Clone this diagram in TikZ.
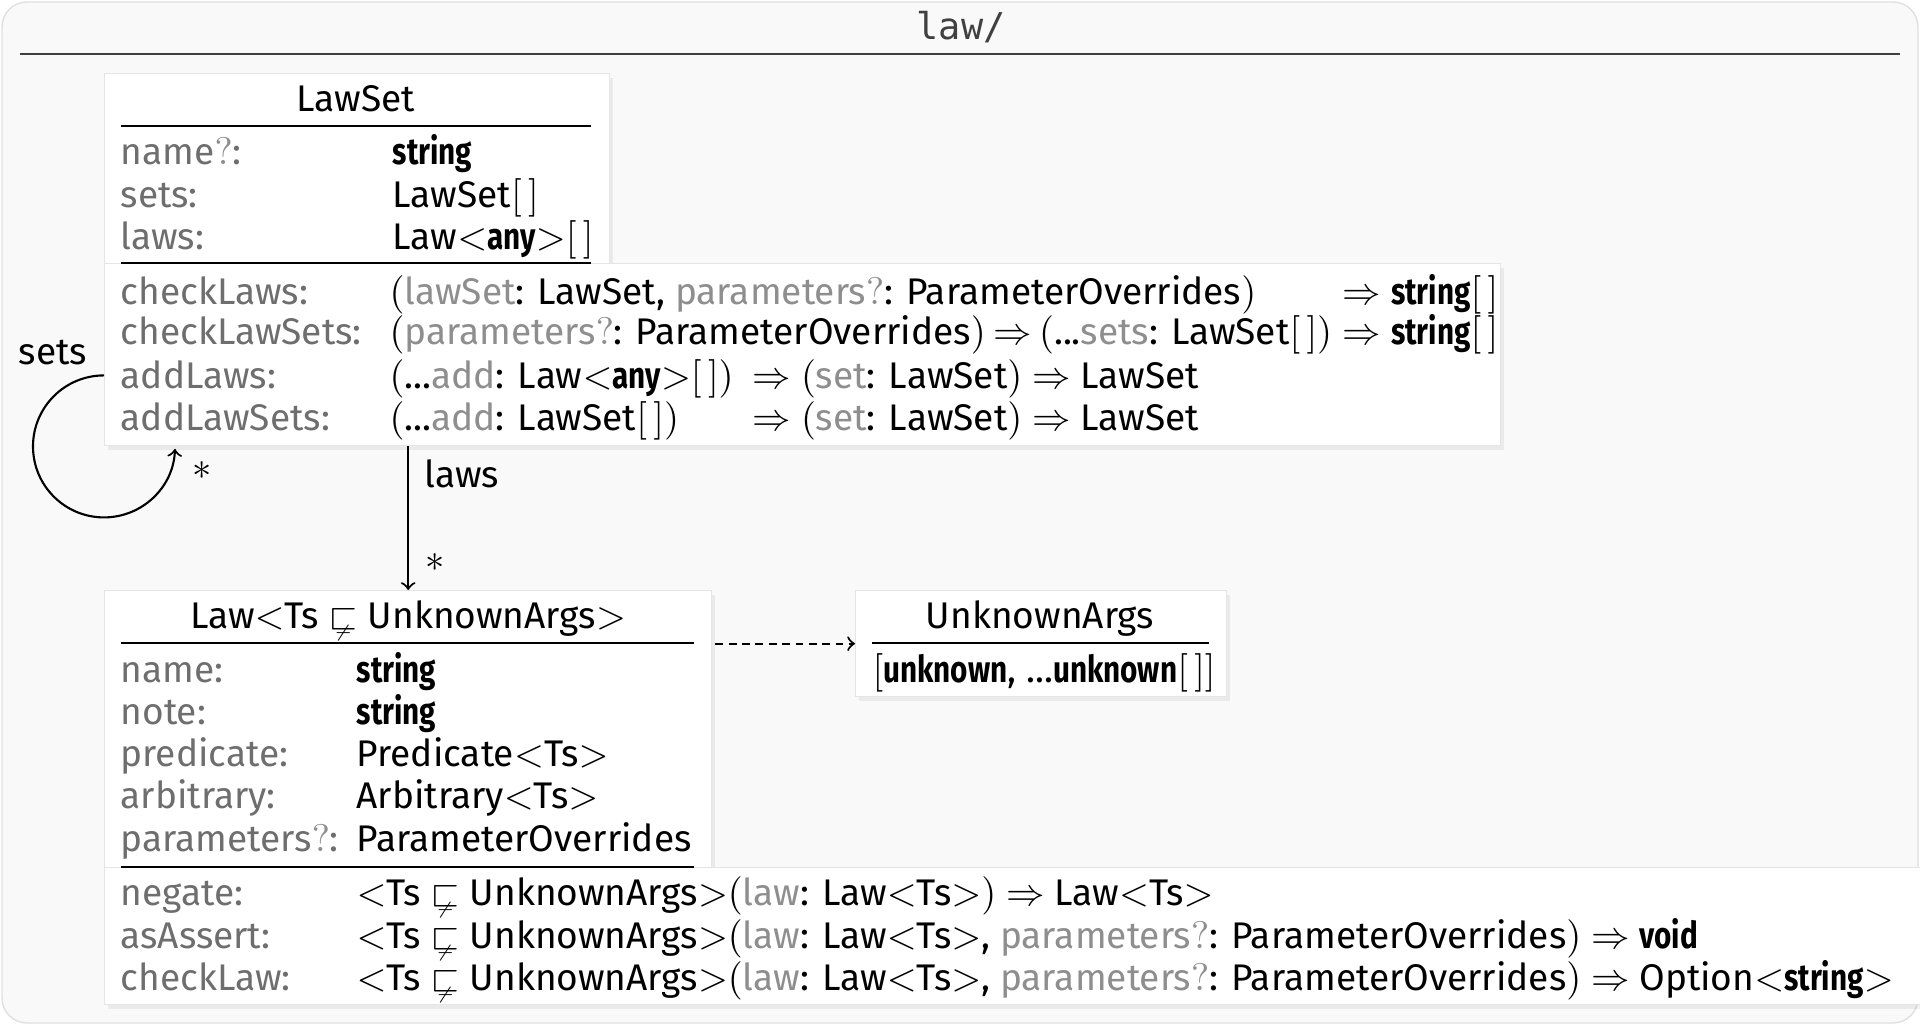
\documentclass[tikz,border=0pt]{standalone}
\usepackage{amsmath,amssymb}
\usepackage{fontspec}
\setmainfont{Fira Sans}
\newfontfamily\monofont{DejaVu Sans Mono}
\newfontfamily\kwfont[FakeStretch=0.8]{Fira Sans}
\usetikzlibrary{shadows}
\definecolor{framegray}{HTML}{F9F9F9}
\definecolor{lblgray}{HTML}{6E6E6E}
\definecolor{arggray}{HTML}{8E8E8E}
\newcommand{\uml}{\fontsize{10.55}{13}\selectfont}
\newcommand{\kw}[1]{{\kwfont\bfseries #1}}
\newcommand{\pname}[1]{\textcolor{arggray}{#1}}
\newcommand{\opt}{\textcolor{arggray}{\ensuremath{?}}}
\newcommand{\fto}{\ensuremath{\Rightarrow}}
\newcommand{\gen}[1]{\ensuremath{<}#1\ensuremath{>}}
\newcommand{\brk}{\ensuremath{[\,]}}
\newcommand{\po}{\ensuremath{(}}
\newcommand{\pc}{\ensuremath{)}}
\newcommand{\nsq}{\ensuremath{\mathrel{\ooalign{$\sqsubset$\cr\hidewidth\raisebox{-0.5ex}[0pt][0pt]{$\scriptscriptstyle\not-$}\hidewidth\cr}}}}

\begin{document}
\begin{tikzpicture}[
    box/.style={draw=black!10, fill=white, inner sep=0pt, anchor=north west,
      drop shadow={opacity=0.12, shadow xshift=0.03cm, shadow yshift=-0.04cm}},
    lbl/.style={anchor=base west, inner sep=0pt, text=lblgray, font=\uml},
    val/.style={anchor=base west, inner sep=0pt, font=\uml},
    ttl/.style={anchor=base, inner sep=0pt, font=\uml},
    rule/.style={line width=0.8pt},
    conn/.style={line width=0.6pt}]
  \useasboundingbox (0,0) rectangle (19.2,-10.25);
  % Rahmen
  \draw[draw=black!12, fill=framegray, rounded corners=0.25cm] (0.02,-0.02) rectangle (19.18,-10.23);
  \node[font=\monofont\fontsize{10.5}{12}\selectfont, text=black!75] (dirTitle) at (9.61,-0.27) {law/};
  \draw[line width=0.7pt, black!75] (0.20,-0.54) -- (19.00,-0.54);

  % LawSet
  \node[box, minimum width=5.05cm, minimum height=1.90cm] (lawsetHead) at (1.04,-0.73) {};
  \node[box, minimum width=13.96cm, minimum height=1.82cm] (lawsetMeth) at (1.04,-2.63) {};
  \node[ttl] (lawsetTitle) at (3.56,-1.12) {LawSet};
  \draw[rule] (1.21,-1.26) -- (5.91,-1.26);
  \draw[rule] (1.21,-2.63) -- (5.91,-2.63);
  \foreach \y/\lab/\val [count=\i] in {-1.65/name\opt:/\kw{string}, -2.07/sets:/LawSet\brk,
      -2.49/laws:/Law\gen{\kw{any}}\brk}{
    \node[lbl] (lsKey\i) at (1.20,\y) {\lab};
    \node[val] (lsVal\i) at (3.92,\y) {\val};
  }
  \foreach \y/\lab/\x/\va/\vb [count=\i] in {
      -3.04/checkLaws:/13.42/{\po\pname{lawSet}: LawSet, \pname{parameters}\opt: ParameterOverrides\pc}/{\fto{} \kw{string}\brk},
      -3.44/checkLawSets:/13.42/{\po\pname{parameters}\opt: ParameterOverrides\pc\hspace{0.2em}\fto\hspace{0.2em}\po...\pname{sets}: LawSet\brk\pc}/{\fto{} \kw{string}\brk},
      -3.88/addLaws:/7.52/{\po...\pname{add}: Law\gen{\kw{any}}\brk\pc}/{\fto{} \po\pname{set}: LawSet\pc{} \fto{} LawSet},
      -4.30/addLawSets:/7.52/{\po...\pname{add}: LawSet\brk\pc}/{\fto{} \po\pname{set}: LawSet\pc{} \fto{} LawSet}}{
    \node[lbl] (lsMeth\i) at (1.20,\y) {\lab};
    \node[val] (lsSig\i) at (3.89,\y) {\va};
    \node[val] (lsRet\i) at (\x,\y) {\vb};
  }

  % Law
  \node[box, minimum width=6.07cm, minimum height=2.77cm] (lawHead) at (1.04,-5.90) {};
  \node[box, minimum width=18.96cm, minimum height=1.37cm] (lawMeth) at (1.04,-8.67) {};
  \node[ttl] (lawTitle) at (4.08,-6.28) {Law\gen{Ts \nsq{} UnknownArgs}};
  \draw[rule] (1.21,-6.43) -- (6.94,-6.43);
  \draw[rule] (1.21,-8.67) -- (6.94,-8.67);
  \foreach \y/\lab/\val [count=\i] in {-6.82/name:/\kw{string}, -7.24/note:/\kw{string},
      -7.66/predicate:/Predicate\gen{Ts}, -8.08/arbitrary:/Arbitrary\gen{Ts},
      -8.51/parameters\opt:/ParameterOverrides}{
    \node[lbl] (lawKey\i) at (1.20,\y) {\lab};
    \node[val] (lawVal\i) at (3.56,\y) {\val};
  }
  \foreach \y/\lab/\val [count=\i] in {
      -9.05/negate:/{\gen{Ts \nsq{} UnknownArgs}\po\pname{law}: Law\gen{Ts}\pc{} \fto{} Law\gen{Ts}},
      -9.48/asAssert:/{\gen{Ts \nsq{} UnknownArgs}\po\pname{law}: Law\gen{Ts}, \pname{parameters}\opt: ParameterOverrides\pc{} \fto{} \kw{void}},
      -9.90/checkLaw:/{\gen{Ts \nsq{} UnknownArgs}\po\pname{law}: Law\gen{Ts}, \pname{parameters}\opt: ParameterOverrides\pc{} \fto{} Option\gen{\kw{string}}}}{
    \node[lbl] (lawMethKey\i) at (1.20,\y) {\lab};
    \node[val] (lawSig\i) at (3.56,\y) {\val};
  }

  % UnknownArgs
  \node[box, minimum width=3.71cm, minimum height=1.06cm] (unkBox) at (8.55,-5.90) {};
  \node[ttl] (unkTitle) at (10.40,-6.28) {UnknownArgs};
  \draw[rule] (8.72,-6.43) -- (12.09,-6.43);
  \node[val] (unkVal) at (8.72,-6.82) {\ensuremath{[}\kw{unknown}, ...\kw{unknown}\brk\ensuremath{]}};

  % Beziehungen
  \draw[conn,->] ([yshift=0.71cm]lawsetMeth.south west) arc[start angle=90, end angle=358, radius=0.71cm];
  \node[font=\uml] (setsLbl) at (0.53,-3.53) {sets};
  \node[font=\uml] (setsMult) at (2.02,-4.71) {$*$};
  \draw[conn,->] (lawHead.north |- lawsetMeth.south) -- (lawHead.north);
  \node[font=\uml, anchor=west, inner sep=0pt] (lawsLbl) at (4.24,-4.74) {laws};
  \node[font=\uml] (lawsMult) at (4.35,-5.63) {$*$};
  \draw[conn,->,dash pattern=on 2.2pt off 1.6pt, shorten <=0.03cm] (lawHead.east |- unkBox.west) -- (unkBox.west);
\end{tikzpicture}
\end{document}
